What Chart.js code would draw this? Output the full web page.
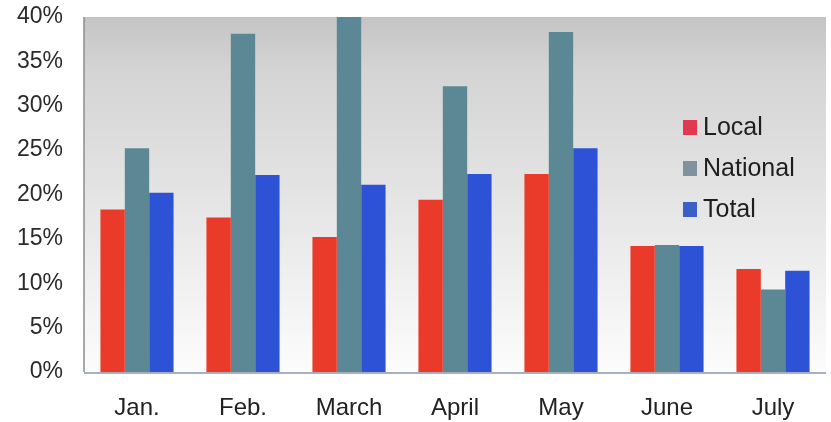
<!DOCTYPE html>
<html>
<head>
<meta charset="utf-8">
<script src="https://cdn.jsdelivr.net/npm/chart.js@4/dist/chart.umd.min.js"></script>
<style>
  html, body { margin: 0; padding: 0; background: #ffffff; }
  #wrap { width: 831px; height: 422px; position: relative; }
</style>
</head>
<body>
<div id="wrap"><canvas id="c" width="831" height="422"></canvas></div>
<script>
// Monthly shares by source
const months = ['Jan.', 'Feb.', 'March', 'April', 'May', 'June', 'July'];
const localVals = [18.3, 17.4, 15.2, 19.4, 22.3, 14.2, 11.6];
const nationalVals = [25.2, 38.1, 40.0, 32.2, 38.3, 14.3, 9.3];
const totalVals = [20.2, 22.2, 21.1, 22.3, 25.2, 14.2, 11.4];
const seriesNames = ['Local', 'National', 'Total'];
const yTicks = [0, 5, 10, 15, 20, 25, 30, 35, 40];

const colors = ['rgb(234,58,42)', 'rgb(92,136,150)', 'rgb(46,82,214)'];
const legendColors = ['rgb(226,56,80)', 'rgb(128,146,158)', 'rgb(60,96,200)'];

// Grey-to-white fill behind the plot, plus the frame lines
const plotBackground = {
  id: 'plotBackground',
  beforeDraw(chart) {
    const { ctx, chartArea: a } = chart;
    const g = ctx.createLinearGradient(0, a.top, 0, a.bottom);
    g.addColorStop(0, '#c4c4c4');
    g.addColorStop(0.15, '#d4d4d4');
    g.addColorStop(0.5, '#e4e4e4');
    g.addColorStop(1, '#fcfcfc');
    ctx.save();
    ctx.fillStyle = g;
    ctx.fillRect(a.left, a.top, a.right - a.left, a.bottom - a.top);
    ctx.strokeStyle = '#8c8c8c';
    ctx.lineWidth = 1.5;
    ctx.beginPath();
    ctx.moveTo(a.left, a.top);
    ctx.lineTo(a.left, a.bottom);
    ctx.stroke();
    ctx.strokeStyle = '#8a96a8';
    ctx.beginPath();
    ctx.moveTo(a.left, a.bottom + 1);
    ctx.lineTo(a.right, a.bottom + 1);
    ctx.stroke();
    ctx.restore();
  }
};

// Legend drawn inside the plot on the right
const innerLegend = {
  id: 'innerLegend',
  afterDatasetsDraw(chart) {
    const { ctx } = chart;
    ctx.save();
    ctx.font = '25px "Liberation Sans", Arial, sans-serif';
    ctx.textBaseline = 'middle';
    chart.data.datasets.forEach((ds, i) => {
      const y = 127 + i * 41;
      ctx.fillStyle = legendColors[i];
      ctx.fillRect(683, y - 7, 14, 15);
      ctx.fillStyle = '#1e1e1e';
      ctx.fillText(ds.label, 703, y + 1);
    });
    ctx.restore();
  }
};

new Chart(document.getElementById('c'), {
  type: 'bar',
  data: {
    labels: months,
    datasets: [
      { label: seriesNames[0], data: localVals, backgroundColor: colors[0] },
      { label: seriesNames[1], data: nationalVals, backgroundColor: colors[1] },
      { label: seriesNames[2], data: totalVals, backgroundColor: colors[2] }
    ]
  },
  options: {
    responsive: false,
    animation: false,
    layout: { padding: { top: 17, right: 5, left: 0, bottom: 0 } },
    datasets: { bar: { categoryPercentage: 0.69, barPercentage: 1.0 } },
    plugins: { legend: { display: false }, tooltip: { enabled: false } },
    scales: {
      x: {
        grid: { display: false, drawTicks: false },
        border: { display: false },
        ticks: {
          color: '#222',
          font: { size: 24, family: '"Liberation Sans", Arial, sans-serif' },
          padding: 22
        },
        afterFit(scale) { scale.height = 50; }
      },
      y: {
        min: 0,
        max: 40,
        grid: { display: false, drawTicks: false },
        border: { display: false },
        afterBuildTicks(scale) { scale.ticks = yTicks.map(v => ({ value: v })); },
        ticks: {
          color: '#2a2a2a',
          font: { size: 23, family: '"Liberation Sans", Arial, sans-serif' },
          padding: 21,
          callback: v => v + '%'
        },
        afterFit(scale) {
          scale.width = 84;
          scale.paddingTop = 0;
          scale.paddingBottom = 0;
        }
      }
    }
  },
  plugins: [plotBackground, innerLegend]
});
</script>
</body>
</html>
